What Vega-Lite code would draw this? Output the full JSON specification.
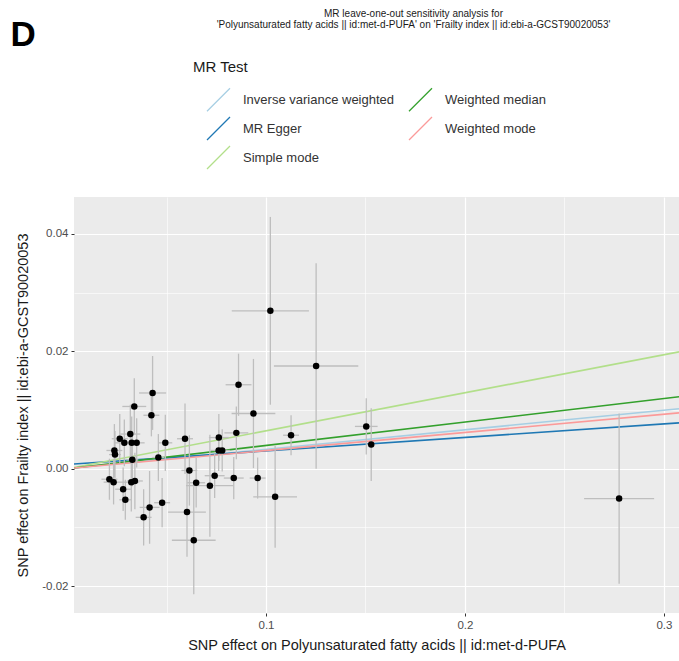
{
  "$schema": "https://vega.github.io/schema/vega-lite/v6.json",
  "width": 605,
  "height": 416,
  "autosize": {"type": "none"},
  "padding": {"left": 74, "top": 197, "right": 0, "bottom": 48},
  "background": "white",
  "title": {
    "text": ["MR leave-one-out sensitivity analysis for", "'Polyunsaturated fatty acids || id:met-d-PUFA' on 'Frailty index || id:ebi-a-GCST90020053'"],
    "anchor": "middle",
    "frame": "group",
    "dx": 37,
    "offset": -13,
    "font": "Liberation Sans",
    "fontSize": 10,
    "fontWeight": "normal",
    "color": "#1a1a1a",
    "lineHeight": 11
  },
  "config": {
    "view": {"fill": "#EBEBEB", "stroke": null},
    "font": "Liberation Sans",
    "axis": {
      "labelFont": "Liberation Sans",
      "titleFont": "Liberation Sans",
      "labelFontSize": 11.5,
      "labelColor": "#4D4D4D",
      "tickColor": "#333333",
      "tickSize": 3,
      "domain": false,
      "titleFontSize": 14.5,
      "titleFontWeight": "normal",
      "titleColor": "#1a1a1a",
      "gridColor": "white"
    },
    "legend": {
      "labelFont": "Liberation Sans",
      "titleFont": "Liberation Sans"
    }
  },
  "datasets": {
    "lines": [
      {"method": "Inverse variance weighted", "x0": 0.0035, "y0": 0.0001, "x1": 0.3076, "y1": 0.0102},
      {"method": "MR Egger", "x0": 0.0035, "y0": 0.0008, "x1": 0.3076, "y1": 0.0078},
      {"method": "Simple mode", "x0": 0.0035, "y0": 0.0002, "x1": 0.3076, "y1": 0.0199},
      {"method": "Weighted median", "x0": 0.0035, "y0": 0.0001, "x1": 0.3076, "y1": 0.01225},
      {"method": "Weighted mode", "x0": 0.0035, "y0": 0.0001, "x1": 0.3076, "y1": 0.0095}
    ],
    "snps": [
      {"x": 0.0213, "y": -0.0018, "xlo": 0.0173, "xhi": 0.0253, "ylo": -0.0053, "yhi": 0.0017},
      {"x": 0.0234, "y": -0.0023, "xlo": 0.0184, "xhi": 0.0284, "ylo": -0.0061, "yhi": 0.0015},
      {"x": 0.0238, "y": 0.0031, "xlo": 0.0198, "xhi": 0.0278, "ylo": -0.0014, "yhi": 0.0076},
      {"x": 0.0241, "y": 0.0024, "xlo": 0.0211, "xhi": 0.0271, "ylo": -0.0016, "yhi": 0.0064},
      {"x": 0.0265, "y": 0.0051, "xlo": 0.0225, "xhi": 0.0305, "ylo": 0.0009, "yhi": 0.0093},
      {"x": 0.0288, "y": 0.0044, "xlo": 0.0238, "xhi": 0.0338, "ylo": 0.0004, "yhi": 0.0084},
      {"x": 0.0282, "y": -0.0035, "xlo": 0.0242, "xhi": 0.0322, "ylo": -0.0072, "yhi": 0.0002},
      {"x": 0.0293, "y": -0.0053, "xlo": 0.0263, "xhi": 0.0323, "ylo": -0.0087, "yhi": -0.0019},
      {"x": 0.0318, "y": 0.0059, "xlo": 0.0268, "xhi": 0.0368, "ylo": 0.0009, "yhi": 0.0109},
      {"x": 0.0325, "y": 0.0044, "xlo": 0.0285, "xhi": 0.0365, "ylo": -0.0001, "yhi": 0.0089},
      {"x": 0.0350, "y": 0.0044, "xlo": 0.0310, "xhi": 0.0390, "ylo": 0.0002, "yhi": 0.0086},
      {"x": 0.0328, "y": 0.0015, "xlo": 0.0298, "xhi": 0.0358, "ylo": -0.0030, "yhi": 0.0060},
      {"x": 0.0323, "y": -0.0023, "xlo": 0.0283, "xhi": 0.0363, "ylo": -0.0073, "yhi": 0.0027},
      {"x": 0.0341, "y": -0.0021, "xlo": 0.0301, "xhi": 0.0381, "ylo": -0.0069, "yhi": 0.0027},
      {"x": 0.0338, "y": 0.0106, "xlo": 0.0278, "xhi": 0.0398, "ylo": 0.0058, "yhi": 0.0154},
      {"x": 0.0430, "y": 0.0129, "xlo": 0.0362, "xhi": 0.0498, "ylo": 0.0066, "yhi": 0.0192},
      {"x": 0.0424, "y": 0.0091, "xlo": 0.0384, "xhi": 0.0464, "ylo": 0.0055, "yhi": 0.0127},
      {"x": 0.0385, "y": -0.0083, "xlo": 0.0345, "xhi": 0.0425, "ylo": -0.0131, "yhi": -0.0035},
      {"x": 0.0415, "y": -0.0066, "xlo": 0.0365, "xhi": 0.0465, "ylo": -0.0128, "yhi": -0.0004},
      {"x": 0.0459, "y": 0.0019, "xlo": 0.0429, "xhi": 0.0489, "ylo": -0.0021, "yhi": 0.0059},
      {"x": 0.0478, "y": -0.0058, "xlo": 0.0438, "xhi": 0.0518, "ylo": -0.0100, "yhi": -0.0016},
      {"x": 0.0494, "y": 0.0044, "xlo": 0.0459, "xhi": 0.0529, "ylo": -0.0004, "yhi": 0.0092},
      {"x": 0.0593, "y": 0.0051, "xlo": 0.0553, "xhi": 0.0633, "ylo": -0.0009, "yhi": 0.0111},
      {"x": 0.0603, "y": -0.0074, "xlo": 0.0508, "xhi": 0.0698, "ylo": -0.0150, "yhi": 0.0002},
      {"x": 0.0615, "y": -0.0003, "xlo": 0.0575, "xhi": 0.0655, "ylo": -0.0063, "yhi": 0.0057},
      {"x": 0.0637, "y": -0.0122, "xlo": 0.0527, "xhi": 0.0747, "ylo": -0.0214, "yhi": -0.0030},
      {"x": 0.0649, "y": -0.0024, "xlo": 0.0604, "xhi": 0.0694, "ylo": -0.0066, "yhi": 0.0018},
      {"x": 0.0718, "y": -0.0029, "xlo": 0.0598, "xhi": 0.0838, "ylo": -0.0116, "yhi": 0.0058},
      {"x": 0.0742, "y": -0.0012, "xlo": 0.0692, "xhi": 0.0792, "ylo": -0.0050, "yhi": 0.0026},
      {"x": 0.0763, "y": 0.0053, "xlo": 0.0713, "xhi": 0.0813, "ylo": 0.0013, "yhi": 0.0093},
      {"x": 0.0762, "y": 0.0031, "xlo": 0.0722, "xhi": 0.0802, "ylo": -0.0004, "yhi": 0.0066},
      {"x": 0.0780, "y": 0.0031, "xlo": 0.0740, "xhi": 0.0820, "ylo": -0.0005, "yhi": 0.0067},
      {"x": 0.0838, "y": -0.0016, "xlo": 0.0788, "xhi": 0.0888, "ylo": -0.0052, "yhi": 0.0020},
      {"x": 0.0851, "y": 0.0061, "xlo": 0.0791, "xhi": 0.0911, "ylo": 0.0016, "yhi": 0.0106},
      {"x": 0.0862, "y": 0.0143, "xlo": 0.0797, "xhi": 0.0927, "ylo": 0.0090, "yhi": 0.0196},
      {"x": 0.0937, "y": 0.0094, "xlo": 0.0827, "xhi": 0.1047, "ylo": 0.0001, "yhi": 0.0187},
      {"x": 0.0958, "y": -0.0016, "xlo": 0.0918, "xhi": 0.0998, "ylo": -0.0051, "yhi": 0.0019},
      {"x": 0.1022, "y": 0.0269, "xlo": 0.0828, "xhi": 0.1216, "ylo": 0.0109, "yhi": 0.0429},
      {"x": 0.1046, "y": -0.0048, "xlo": 0.0936, "xhi": 0.1156, "ylo": -0.0135, "yhi": 0.0039},
      {"x": 0.1126, "y": 0.0057, "xlo": 0.1086, "xhi": 0.1166, "ylo": 0.0023, "yhi": 0.0091},
      {"x": 0.1252, "y": 0.0175, "xlo": 0.1040, "xhi": 0.1464, "ylo": 0.0000, "yhi": 0.0350},
      {"x": 0.1504, "y": 0.0072, "xlo": 0.1447, "xhi": 0.1561, "ylo": 0.0024, "yhi": 0.0120},
      {"x": 0.1529, "y": 0.0041, "xlo": 0.1509, "xhi": 0.1549, "ylo": -0.0021, "yhi": 0.0103},
      {"x": 0.2775, "y": -0.0051, "xlo": 0.2599, "xhi": 0.2951, "ylo": -0.0196, "yhi": 0.0094}
    ]
  },
  "resolve": {"axis": {"x": "independent", "y": "independent"}},
  "layer": [
    {
      "data": {"name": "lines"},
      "mark": {"type": "rule", "strokeWidth": 1.6},
      "encoding": {
        "x": {
          "field": "x0", "type": "quantitative",
          "scale": {"domain": [0.0035, 0.3076], "nice": false, "zero": false},
          "axis": {
            "title": "SNP effect on Polyunsaturated fatty acids || id:met-d-PUFA",
            "values": [0.05, 0.1, 0.15, 0.2, 0.25, 0.3],
            "labelExpr": "abs(datum.value*10 - round(datum.value*10)) < 0.001 ? format(datum.value, '.1f') : ''",
            "gridWidth": {"condition": {"test": "abs(datum.value*10 - round(datum.value*10)) > 0.001", "value": 0.6}, "value": 1.2},
            "tickOpacity": {"condition": {"test": "abs(datum.value*10 - round(datum.value*10)) > 0.001", "value": 0}, "value": 1},
            "labelPadding": 3,
            "titlePadding": 8
          }
        },
        "x2": {"field": "x1"},
        "y": {
          "field": "y0", "type": "quantitative",
          "scale": {"domain": [-0.0246, 0.0463], "nice": false, "zero": false},
          "axis": {
            "title": "SNP effect on Frailty index || id:ebi-a-GCST90020053",
            "values": [-0.02, -0.01, 0, 0.01, 0.02, 0.03, 0.04],
            "labelExpr": "abs(datum.value*50 - round(datum.value*50)) < 0.001 ? replace(format(datum.value, '.2f'), '\u2212', '-') : ''",
            "gridWidth": {"condition": {"test": "abs(datum.value*50 - round(datum.value*50)) > 0.001", "value": 0.6}, "value": 1.2},
            "tickOpacity": {"condition": {"test": "abs(datum.value*50 - round(datum.value*50)) > 0.001", "value": 0}, "value": 1},
            "labelPadding": 3,
            "titlePadding": 11
          }
        },
        "y2": {"field": "y1"},
        "color": {
          "field": "method", "type": "nominal",
          "scale": {
            "domain": ["Inverse variance weighted", "MR Egger", "Simple mode", "Weighted median", "Weighted mode"],
            "range": ["#A6CEE3", "#1F78B4", "#B2DF8A", "#33A02C", "#FB9A99"]
          },
          "legend": {
            "title": "MR Test",
            "orient": "none",
            "legendX": 119,
            "legendY": -137,
            "columns": 2,
            "columnPadding": -1,
            "rowPadding": 0,
            "symbolType": "M-1,1L1,-1",
            "symbolSize": 529,
            "symbolOffset": 13,
            "symbolStrokeWidth": 1.3,
            "labelFontSize": 13,
            "labelColor": "#333333",
            "labelOffset": 12,
            "titleFontSize": 15,
            "titleFontWeight": "normal",
            "titleColor": "#1a1a1a",
            "titlePadding": 12
          }
        }
      }
    },
    {
      "data": {"name": "snps"},
      "mark": {"type": "rule", "color": "#BEBEBE", "strokeWidth": 1.3},
      "encoding": {
        "x": {"field": "xlo", "type": "quantitative", "axis": null},
        "x2": {"field": "xhi"},
        "y": {"field": "y", "type": "quantitative", "axis": null}
      }
    },
    {
      "data": {"name": "snps"},
      "mark": {"type": "rule", "color": "#BEBEBE", "strokeWidth": 1.3},
      "encoding": {
        "x": {"field": "x", "type": "quantitative", "axis": null},
        "y": {"field": "ylo", "type": "quantitative", "axis": null},
        "y2": {"field": "yhi"}
      }
    },
    {
      "data": {"name": "snps"},
      "mark": {"type": "circle", "size": 42, "color": "black", "opacity": 1},
      "encoding": {
        "x": {
          "field": "x", "type": "quantitative",
          "axis": {
            "orient": "top", "title": "D", "labels": false, "ticks": false, "domain": false, "grid": false,
            "titleFontSize": 35, "titleFontWeight": "bold", "titleColor": "black",
            "titleX": -64, "titleY": -152, "titleAlign": "left", "titleBaseline": "alphabetic", "titleAngle": 0
          }
        },
        "y": {"field": "y", "type": "quantitative", "axis": null}
      }
    }
  ]
}
